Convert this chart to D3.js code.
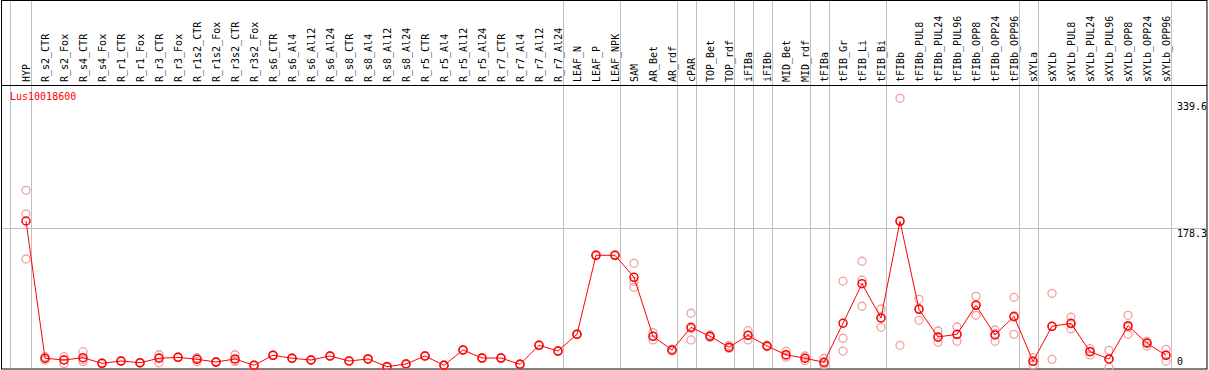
<!DOCTYPE html>
<head>
  <meta charset="utf-8">
  <script src="https://d3js.org/d3.v7.min.js"></script>
  <style>
    body { margin:0; background:#fff; }
    text { font-family: "DejaVu Sans Mono", monospace; font-size:10px; }
  </style>
</head>
<body>
<script>

// sample names, one column each
var samples = ["HYP",
  "R_s2_CTR","R_s2_Fox","R_s4_CTR","R_s4_Fox","R_r1_CTR","R_r1_Fox","R_r3_CTR","R_r3_Fox",
  "R_r1s2_CTR","R_r1s2_Fox","R_r3s2_CTR","R_r3s2_Fox",
  "R_s6_CTR","R_s6_Al4","R_s6_Al12","R_s6_Al24","R_s8_CTR","R_s8_Al4","R_s8_Al12","R_s8_Al24",
  "R_r5_CTR","R_r5_Al4","R_r5_Al12","R_r5_Al24","R_r7_CTR","R_r7_Al4","R_r7_Al12","R_r7_Al24",
  "LEAF_N","LEAF_P","LEAF_NPK","SAM","AR_Bet","AR_rdf","cPAR","TOP_Bet","TOP_rdf",
  "iFIBa","iFIBb","MID_Bet","MID_rdf","tFIBa","tFIB_Gr","tFIB_Li","tFIB_Bi",
  "tFIBb","tFIBb_PUL8","tFIBb_PUL24","tFIBb_PUL96","tFIBb_OPP8","tFIBb_OPP24","tFIBb_OPP96",
  "sXYLa","sXYLb","sXYLb_PUL8","sXYLb_PUL24","sXYLb_PUL96","sXYLb_OPP8","sXYLb_OPP24","sXYLb_OPP96"];

// a gray separator is drawn after each of these
var groupEnds = ["HYP","R_r7_Al24","LEAF_NPK","AR_rdf","cPAR","TOP_rdf","iFIBa","iFIBb",
  "MID_rdf","tFIBa","tFIB_Bi","tFIBb_OPP96","sXYLa","sXYLb_OPP96"];

// mean expression per sample
var means = [187.2,
  12.4,10.2,13.1,6.0,8.9,6.7,12.4,13.6,
  11.1,7.6,11.5,3.4,
  16.2,12.4,10.2,15.3,8.9,11.5,1.7,5.1,
  15.3,3.4,22.9,12.7,12.7,4.7,28.9,21.6,
  43.0,143.5,143.5,115.5,40.4,22.9,51.8,40.4,26.4,
  41.6,28.0,16.9,12.4,7.3,57.0,107.3,63.7,
  186.8,74.7,39.5,42.9,79.8,42.0,65.8,
  8.5,53.1,56.9,20.8,11.5,53.9,31.5,16.2];

// replicate values per sample
var reps = [[226.3,196.1,138.8],
  [14.4,12.4,10.2],[14.4,5.5,10.7],[20.8,8.0,10.5],[6.5,5.5,6.0],[9.5,8.3,8.9],[7.2,6.2,6.7],[16.9,6.7,13.6],[14.0,13.2,13.6],
  [13.1,8.0,12.2],[8.2,7.0,7.6],[16.9,9.3,8.3],[3.9,2.9,3.4],
  [16.7,15.7,16.2],[12.9,11.9,12.4],[10.7,9.7,10.2],[15.8,14.8,15.3],[9.4,8.4,8.9],[12.0,11.0,11.5],[2.2,1.2,1.7],[5.6,4.6,5.1],
  [15.8,14.8,15.3],[3.9,2.9,3.4],[23.4,22.4,22.9],[13.2,12.2,12.7],[13.2,12.2,12.7],[5.2,4.2,4.7],[29.4,28.4,28.9],[22.1,21.1,21.6],
  [43.5,42.5,43.0],[144,143,143.5],[144,143,143.5],[133.3,102.8,110.4],[45.0,35.7,40.5],[24.0,21.8,22.9],[69.7,35.7,50.0],[42.0,38.8,40.4],[28.9,25.1,25.2],
  [47.5,35.7,41.6],[29.0,27.0,28.0],[21.6,13.6,15.5],[15.3,9.3,12.6],[12.4,4.2,5.3],[110.7,37.9,21.6],[135.9,112.0,78.6],[75.1,51.8,64.2],
  [343.4,28.9,188.1],[87.5,60.7,75.9],[47.1,32.7,38.7],[52.2,34.0,42.5],[91.3,67.1,81.0],[48.4,34.0,43.6],[90.0,42.9,64.5],
  [13.1,3.8,8.6],[95.1,11.1,53.1],[64.6,50.0,56.1],[24.6,16.6,21.2],[22.5,0.9,11.1],[67.1,42.9,51.7],[34.0,28.0,32.5],[23.8,8.5,16.3]];

var yTicks = [339.6, 178.3, 0];
var geneName = "Lus10018600";

var W = 1209, H = 370;
var headerY = 85.5, plotBottom = 368, plotRight = 1207;

var svg = d3.select("body").append("svg")
    .attr("width", W)
    .attr("height", H);

var x = d3.scalePoint()
    .domain(samples)
    .range([26, 1166]);

var y = d3.scaleLinear()
    .domain([0, 339.6])
    .range([plotBottom, 101.3]);

// horizontal grid at middle tick
svg.append("line")
    .attr("x1", 1.5).attr("x2", plotRight)
    .attr("y1", Math.round(y(178.3)) + 0.5).attr("y2", Math.round(y(178.3)) + 0.5)
    .attr("stroke", "#c0c0c0");

// group separators
var seps = [x(samples[0]) - 16].concat(groupEnds.map(function(s){ return x(s) + 4.5; }));
svg.selectAll(".sep")
  .data(seps)
  .enter().append("line")
    .attr("class", "sep")
    .attr("x1", function(d){ return Math.round(d) + 0.5; })
    .attr("x2", function(d){ return Math.round(d) + 0.5; })
    .attr("y1", 0).attr("y2", plotBottom)
    .attr("stroke", "#c0c0c0");

// frame
svg.append("rect")
    .attr("x", 1.5).attr("y", 0.5)
    .attr("width", plotRight - 1.5).attr("height", plotBottom + 0.5)
    .attr("fill", "none")
    .attr("stroke", "#000");
svg.append("line")
    .attr("x1", 1.5).attr("x2", plotRight)
    .attr("y1", headerY).attr("y2", headerY)
    .attr("stroke", "#000");

// column labels
svg.selectAll(".lab")
  .data(samples)
  .enter().append("text")
    .attr("class", "lab")
    .attr("transform", function(d){ return "translate(" + (x(d) + 3.5) + ",82) rotate(-90)"; })
    .attr("fill", "#000")
    .text(function(d){ return d; });

// gene name
svg.append("text")
    .attr("x", 10).attr("y", 100)
    .attr("fill", "#ff0000")
    .text(geneName);

// right axis labels
svg.selectAll(".ytick")
  .data(yTicks)
  .enter().append("text")
    .attr("class", "ytick")
    .attr("x", 1177)
    .attr("y", function(d){ return d === 0 ? y(d) - 3 : y(d) + 9; })
    .attr("fill", "#000")
    .text(function(d){ return d; });

// replicate circles
var repPts = [];
reps.forEach(function(r, i){
  r.forEach(function(v){ repPts.push([samples[i], v]); });
});
svg.selectAll(".rep")
  .data(repPts)
  .enter().append("circle")
    .attr("class", "rep")
    .attr("cx", function(d){ return x(d[0]); })
    .attr("cy", function(d){ return y(d[1]); })
    .attr("r", 4)
    .attr("fill", "none")
    .attr("stroke", "#f0a0a0")
    .attr("stroke-width", 1.3);

// mean line
var line = d3.line()
    .x(function(d, i){ return x(samples[i]); })
    .y(function(d){ return y(d); });

svg.append("path")
    .datum(means)
    .attr("fill", "none")
    .attr("stroke", "#ff0000")
    .attr("stroke-width", 1)
    .attr("d", line);

svg.selectAll(".mean")
  .data(means)
  .enter().append("circle")
    .attr("class", "mean")
    .attr("cx", function(d, i){ return x(samples[i]); })
    .attr("cy", function(d){ return y(d); })
    .attr("r", 4)
    .attr("fill", "none")
    .attr("stroke", "#ff0000")
    .attr("stroke-width", 1.5);

</script>
</body>
